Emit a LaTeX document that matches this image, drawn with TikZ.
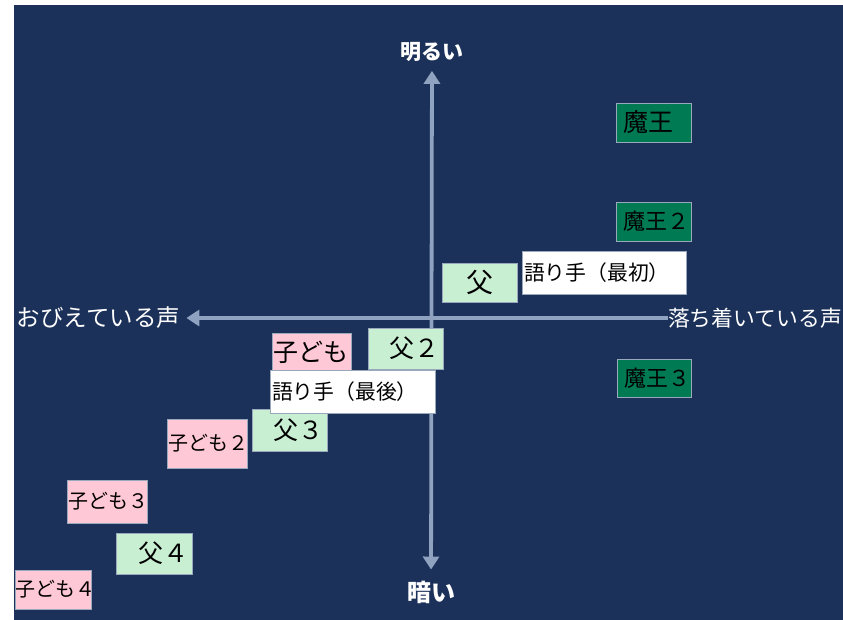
\documentclass[tikz,border=0pt]{standalone}
\usepackage{fontspec}
\setmainfont{Noto Sans CJK JP}
\usetikzlibrary{arrows.meta}

\definecolor{bgnavy}{HTML}{1B3159}
\definecolor{axisblue}{HTML}{8FA2C0}
\definecolor{boxline}{HTML}{9AA8BC}
\definecolor{chichigreen}{HTML}{C9EFD3}
\definecolor{maougreen}{HTML}{007A53}
\definecolor{kodomopink}{HTML}{FFC8D7}

\begin{document}
\begin{tikzpicture}
[x=1pt,y=-1pt,
  boxdecorate/.style={draw=boxline,line width=0.6pt,inner ysep=0pt},%
  chichidecorate/.style={boxdecorate,fill=chichigreen,inner xsep=4pt,align=right},%
  kodomodecorate/.style={boxdecorate,fill=kodomopink,inner xsep=1pt,align=left},%
  maoudecorate/.style={boxdecorate,fill=maougreen,inner xsep=7pt,align=left},%
  kataridecorate/.style={boxdecorate,fill=white,inner xsep=2pt,align=left},%
  labeldecorate/.style={text=white,inner sep=0pt},%
  axistip/.tip={Triangle[width=16pt,length=13pt]},%
  axisdecorate/.style={line width=3.8pt,draw=axisblue}]
%% background
\fill[white] (0,0) rectangle (843,620);
\fill[bgnavy] (14,5) rectangle (843,620);
\useasboundingbox (0,0) rectangle (843,620);
%% axis labels
\node (akarui) at (432,52) [labeldecorate,font=\fontsize{21}{21}\selectfont\bfseries] {明るい};
\node (kurai) at (431,592) [labeldecorate,font=\fontsize{24}{24}\selectfont\bfseries] {暗い};
\node (obieru) at (98.5,318) [labeldecorate,font=\fontsize{23.5}{24}\selectfont] {おびえている声};
\node (ochitsuku) at (755,318) [labeldecorate,font=\fontsize{21.8}{22}\selectfont] {落ち着いている声};
%% axes
\draw[axisdecorate,axistip-axistip,shorten <=9pt,shorten >=11pt] (akarui) -- (kurai);
\draw[axisdecorate,axistip-,shorten <=6pt] (obieru) -- (ochitsuku);
%% maou
\foreach \nodename/\x/\y/\w/\h/\fs/\txt in {maou1/653.5/122.5/75/39/25/魔王,
  maou2/653.5/221.5/75/39/22/魔王２, maou3/654/378/74/38/22/魔王３}
{
  \pgfmathsetmacro\tw{\w-14}
  \node (\nodename) at (\x,\y) [maoudecorate,text width=\tw pt,minimum height=\h pt,
    font=\fontsize{\fs}{\fs}\selectfont] {\txt};
}
%% chichi
\foreach \nodename/\x/\y/\w/\h/\fs/\txt in {chichi2/405.5/348.5/75/41/25/父２,
  chichi3/289.5/430/75/42/25/父３, chichi4/154/553.5/76/41/25/父４}
{
  \pgfmathsetmacro\tw{\w-8}
  \node (\nodename) at (\x,\y) [chichidecorate,text width=\tw pt,minimum height=\h pt,
    font=\fontsize{\fs}{\fs}\selectfont] {\txt};
}
\node (chichi1) at (479.5,282.5) [chichidecorate,align=center,minimum width=75pt,
  minimum height=39pt,font=\fontsize{27}{27}\selectfont] {父};
%% kodomo
\foreach \nodename/\x/\y/\w/\h/\fs/\txt in {kodomo1/311.5/352.5/79/39/25/子ども,
  kodomo2/207/443.5/80/49/20/子ども２, kodomo3/107/501.5/80/43/20/子ども３,
  kodomo4/53/589.5/76/39/20/子ども４}
{
  \pgfmathsetmacro\tw{\w-2}
  \node (\nodename) at (\x,\y) [kodomodecorate,text width=\tw pt,minimum height=\h pt,
    font=\fontsize{\fs}{\fs}\selectfont] {\txt};
}
%% katarite
\foreach \nodename/\x/\y/\w/\h/\fs/\txt in {katari1/604/272.5/164/43/20.8/語り手（最初）,
  katari2/352.5/391.5/165/43/20.8/語り手（最後）}
{
  \pgfmathsetmacro\tw{\w-4}
  \node (\nodename) at (\x,\y) [kataridecorate,text width=\tw pt,minimum height=\h pt,
    font=\fontsize{\fs}{\fs}\selectfont] {\txt};
}
\end{tikzpicture}
\end{document}
